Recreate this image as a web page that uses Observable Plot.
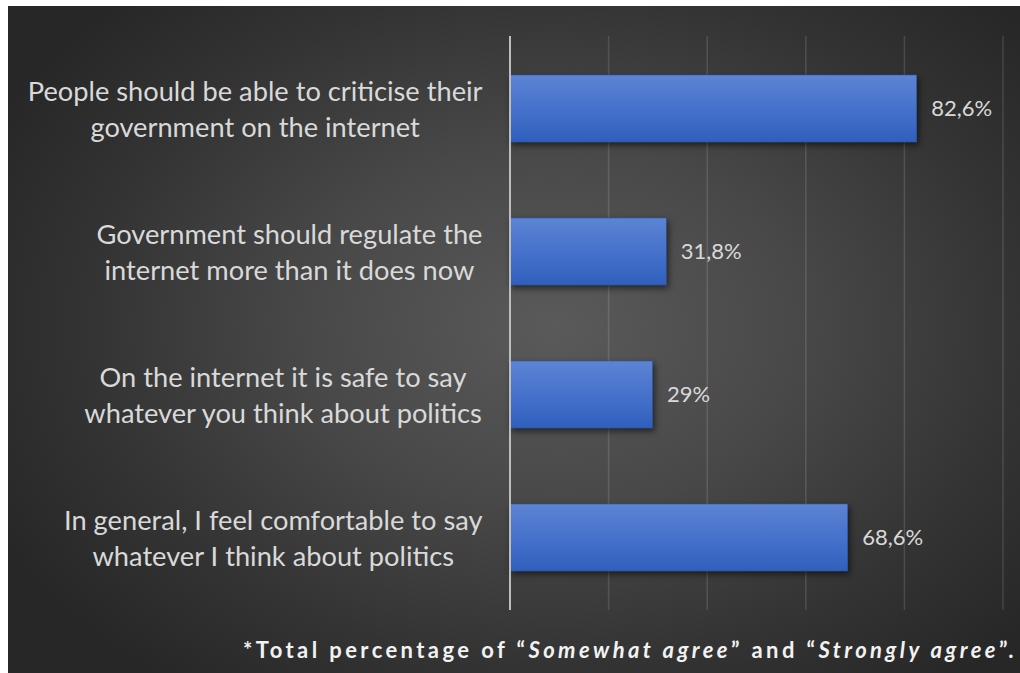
<!DOCTYPE html>
<html><head><meta charset="utf-8">
<script src="https://cdn.jsdelivr.net/npm/d3@7"></script>
<script src="https://cdn.jsdelivr.net/npm/@observablehq/plot@0.6"></script>
<style>
html,body{margin:0;padding:0;background:#fff;}
#panel{position:absolute;left:8px;top:6px;width:1012px;height:667px;overflow:hidden;
 background:radial-gradient(ellipse 62% 68% at 54% 48%, #5a5a5a 0%, #484848 40%, #333 75%, #272727 100%);}
#chart svg, #caption svg{display:block}
</style></head><body>
<div id="panel"><div id="chart"></div><div id="caption"></div></div>
<script>
const categories = [
  "People should be able to criticise their\ngovernment on the internet",
  "Government should regulate the\ninternet more than it does now",
  "On the internet it is safe to say\nwhatever you think about politics",
  "In general, I feel comfortable to say\nwhatever I think about politics"
];
const values = [82.6, 31.8, 29, 68.6];
const valueLabels = ["82,6%", "31,8%", "29%", "68,6%"];
const gridTicks = [20, 40, 60, 80, 100];
const captionParts = [
  ["*Total percentage of \u201C", "normal"],
  ["Somewhat agree", "italic"],
  ["\u201D and \u201C", "normal"],
  ["Strongly agree", "italic"],
  ["\u201D.", "normal"]
];

const table = categories.map((c, i) => ({category: c, value: values[i], label: valueLabels[i]}));

const FONT = "Lato";
const ctx = document.createElement("canvas").getContext("2d");
function measure(t, size, weight = "normal", style = "normal") {
  ctx.font = `${style} ${weight} ${size}px ${FONT}`;
  return ctx.measureText(t).width;
}
// fit font sizes to the reference widths
const catFS = 24 * 455 / measure("People should be able to criticise their", 24);
const valFS = 24 * 61 / measure("68,6%", 24);

const W = 1012, H = 620;
const labelEdge = -27.5; // right edge of label block relative to frame left

const labelMarks = categories.map(c => {
  const w = d3.max(c.split("\n"), l => measure(l, catFS));
  return Plot.text([c], {
    y: d => d, text: d => d, frameAnchor: "left",
    textAnchor: "middle", lineAnchor: "middle",
    dx: labelEdge - w / 2, dy: -2, fontSize: catFS, lineHeight: 36 / catFS,
    fill: "#d9d9d9", fontFamily: FONT
  });
});

const svg = Plot.plot({
  width: W, height: H,
  marginLeft: 501.5, marginRight: 17.5, marginTop: 30, marginBottom: 16,
  style: {background: "transparent", fontFamily: FONT},
  x: {domain: [0, 100], axis: null},
  y: {domain: categories, axis: null, paddingInner: 0.53, paddingOuter: 0.265},
  marks: [
    Plot.ruleX(gridTicks, {stroke: "#ffffff", strokeOpacity: 0.13, strokeWidth: 1.5}),
    Plot.barX(table, {x: "value", y: "category", fill: "url(#barGrad)", stroke: "#2c58a6", strokeWidth: 0.6}),
    Plot.ruleX([0], {stroke: "#bdbdbd", strokeWidth: 2}),
    Plot.text(table, {x: "value", y: "category", text: "label", dx: 14, textAnchor: "start",
      fill: "#d9d9d9", fontSize: valFS, fontFamily: FONT}),
    ...labelMarks
  ]
});
const s = d3.select(svg);
s.insert("defs", ":first-child").html(
  `<linearGradient id="barGrad" x1="0" y1="0" x2="0" y2="1">
     <stop offset="0" stop-color="#5d84d4"/>
     <stop offset="0.5" stop-color="#4672cb"/>
     <stop offset="1" stop-color="#2f5fbd"/>
   </linearGradient>`);
s.select('g[aria-label="bar"]').style("filter", "drop-shadow(2px 3px 3px rgba(0,0,0,0.55))");
document.getElementById("chart").appendChild(svg);

// caption
const capFS = 22;
const cap = d3.select("#caption").append("svg").attr("width", W).attr("height", 47);
const t = cap.append("text").attr("x", 1009).attr("y", 32).attr("text-anchor", "end")
  .attr("fill", "#f2f2f2").attr("font-family", FONT).attr("font-weight", "bold").attr("font-size", capFS);
captionParts.forEach(([txt, st]) => t.append("tspan").attr("font-style", st).text(txt));
const nat = t.node().getComputedTextLength();
const nChars = captionParts.map(p => p[0]).join("").length;
t.attr("letter-spacing", Math.max(0, ((1009 - 235) - nat) / nChars));
</script>
</body></html>
